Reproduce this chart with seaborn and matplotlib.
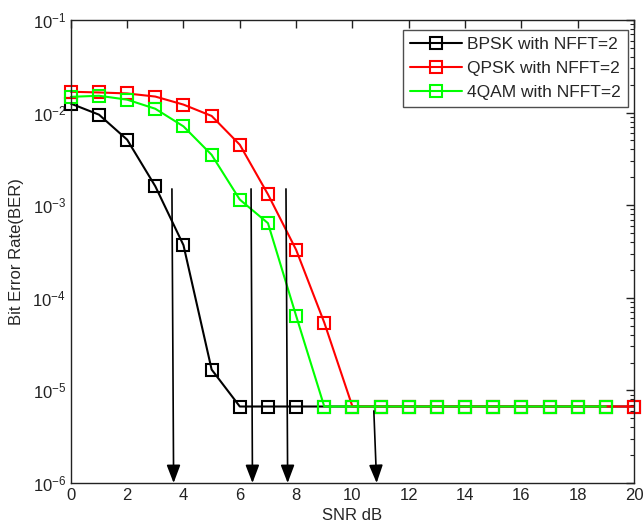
import numpy as np
import pandas as pd
import matplotlib
matplotlib.use("Agg")
import matplotlib.pyplot as plt
import seaborn as sns
from matplotlib.ticker import LogLocator, NullFormatter

snr = list(range(0, 21))
floor = 6.7e-6
bpsk = [0.0125, 0.0095, 0.0051, 0.0016, 3.7e-4, 1.68e-5] + [floor] * 15
qpsk = [0.0168, 0.0165, 0.0161, 0.0149, 0.0122, 0.0092, 0.0045, 1.31e-3,
        3.3e-4, 5.4e-5] + [floor] * 11
qam4 = [0.0148, 0.0152, 0.0138, 0.0110, 0.0071, 0.0035, 0.00115, 6.4e-4,
        6.4e-5] + [floor] * 11
qam4_snr = list(range(0, 20))

labels = ["BPSK with NFFT=2", "QPSK with NFFT=2", "4QAM with NFFT=2"]
colors = ["#000000", "#ff0000", "#00ff00"]

# annotation arrows: (x_start, y_start, x_end, y_end)
arrows = [(3.59, 1.5e-3, 3.65, 1e-6),
          (6.40, 1.5e-3, 6.45, 1e-6),
          (7.64, 1.5e-3, 7.70, 1e-6),
          (10.76, 6.0e-6, 10.86, 1e-6)]

sns.set_style("white")
plt.rcParams['font.family'] = ['Liberation Sans', 'DejaVu Sans']
plt.rcParams['mathtext.fontset'] = 'custom'
plt.rcParams['mathtext.rm'] = 'Liberation Sans'
plt.rcParams['mathtext.it'] = 'Liberation Sans'

fig = plt.figure(figsize=(6.44, 5.32), dpi=100)
ax = fig.add_axes([0.110, 0.0921, 0.8745, 0.8703])

series = [(snr, bpsk), (snr, qpsk), (qam4_snr, qam4)]
for (xs, ys), lab, c in zip(series, labels, colors):
    df = pd.DataFrame({"SNR": xs, "BER": ys})
    sns.lineplot(data=df, x="SNR", y="BER", ax=ax, color=c, lw=1.5,
                 marker="s", markersize=8, markerfacecolor="none",
                 markeredgecolor=c, markeredgewidth=1.5, label=lab,
                 clip_on=False)

for x0, y0, x1, y1 in arrows:
    ax.annotate("", xy=(x1, y1), xytext=(x0, y0),
                arrowprops=dict(arrowstyle="-|>,head_length=1.1,head_width=0.42",
                                color="black", lw=1.2, shrinkA=0, shrinkB=0))

ax.set_yscale("log")
ax.set_xlim(0, 20)
ax.set_ylim(1e-6, 1e-1)
ax.set_xticks(range(0, 21, 2))
ax.set_xticklabels([str(v) for v in range(0, 21, 2)])
ax.set_yticks([1e-6, 1e-5, 1e-4, 1e-3, 1e-2, 1e-1])
ax.set_yticklabels([r"$10^{-%d}$" % k for k in [6, 5, 4, 3, 2, 1]])
ax.yaxis.set_minor_locator(LogLocator(base=10, subs=np.arange(2, 10)))
ax.yaxis.set_minor_formatter(NullFormatter())
ax.tick_params(axis="both", which="both", direction="in", top=True, right=True,
               labelsize=12, colors="#222222")
ax.tick_params(axis="both", which="major", length=6, width=1)
ax.tick_params(axis="y", which="minor", length=3, width=0.8)
for sp in ax.spines.values():
    sp.set_color("#222222")
    sp.set_linewidth(1)
ax.set_xlabel("SNR dB", fontsize=12, labelpad=4)
ax.set_ylabel("Bit Error Rate(BER)", fontsize=12, labelpad=6)
ax.grid(False)

leg = ax.legend(loc="upper right", fontsize=12.5, frameon=True, fancybox=False,
                edgecolor="#222222", borderpad=0.4, handlelength=3.0,
                handletextpad=0.3, labelspacing=0.5, borderaxespad=0,
                bbox_to_anchor=(0.989, 0.978))
leg.get_frame().set_linewidth(1)

fig.savefig("out.png", dpi=100, facecolor="white")
